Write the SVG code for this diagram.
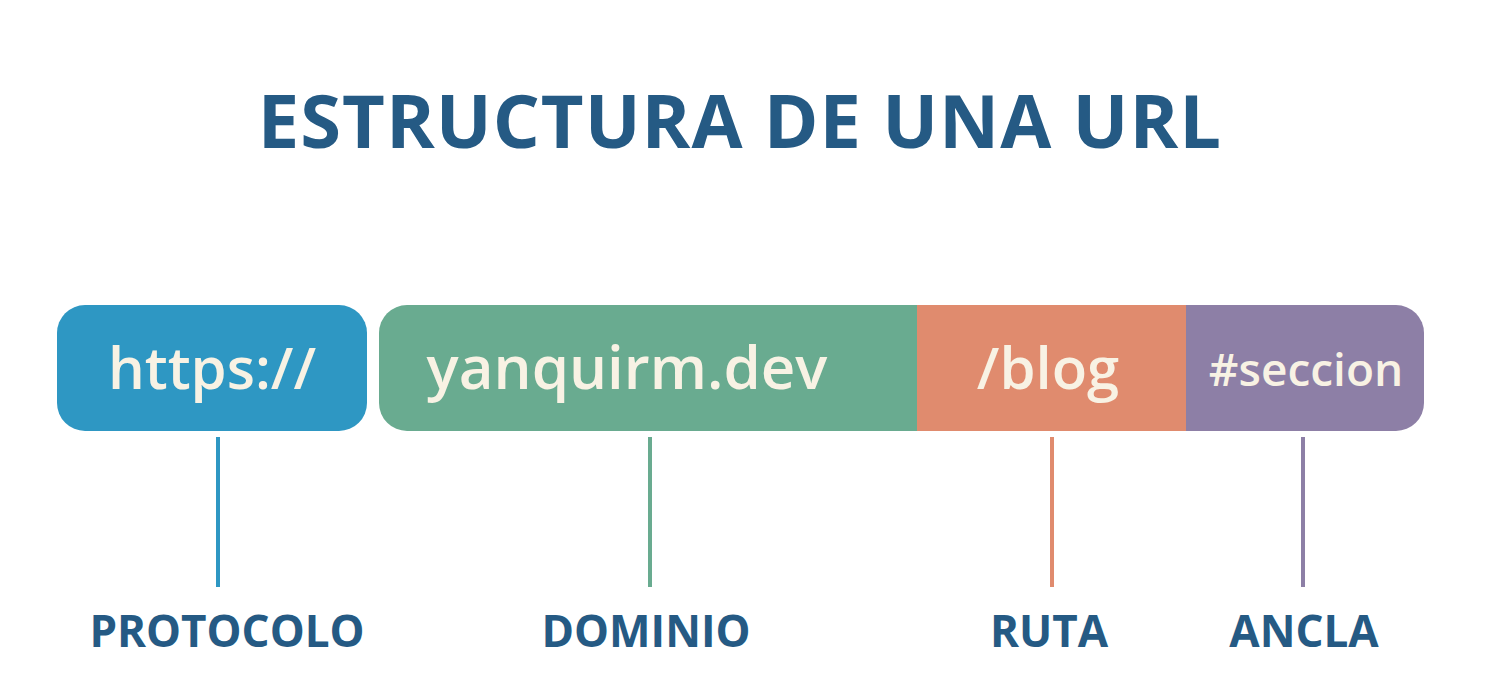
<svg xmlns="http://www.w3.org/2000/svg" width="1500" height="700" viewBox="0 0 1500 700">
<style>
.t{font-family:"Open Sans","Liberation Sans",sans-serif;font-weight:700;fill:#255a84;text-anchor:middle}
.b{font-family:"Open Sans","Liberation Sans",sans-serif;font-weight:600;fill:#f8f2e4;text-anchor:middle}
.l{stroke-width:4;fill:none}
</style>
<rect width="1500" height="700" fill="#ffffff"/>
<text class="t" x="740" y="148" font-size="74" letter-spacing="1">ESTRUCTURA DE UNA URL</text>
<g id="protocolo">
<rect x="57" y="305" width="310" height="126" rx="28" fill="#2e97c3"/>
<text class="b" x="212" y="389" font-size="58">https://</text>
</g>
<g id="dominio">
<path d="M407 305H917V431H407A28 28 0 0 1 379 403V333A28 28 0 0 1 407 305Z" fill="#69ab90"/>
<text class="b" x="627" y="389" font-size="60">yanquirm.dev</text>
</g>
<g id="ruta">
<rect x="917" y="305" width="269" height="126" fill="#e08b6e"/>
<text class="b" x="1048" y="389" font-size="58">/blog</text>
</g>
<g id="ancla">
<path d="M1186 305H1396A28 28 0 0 1 1424 333V403A28 28 0 0 1 1396 431H1186Z" fill="#8d7fa6"/>
<text class="b" x="1306" y="386" font-size="46">#seccion</text>
</g>
<g id="connectors">
<line class="l" x1="218" y1="437" x2="218" y2="587" stroke="#2e97c3"/>
<line class="l" x1="650" y1="437" x2="650" y2="587" stroke="#69ab90"/>
<line class="l" x1="1052" y1="437" x2="1052" y2="587" stroke="#e08b6e"/>
<line class="l" x1="1303" y1="437" x2="1303" y2="587" stroke="#8d7fa6"/>
</g>
<g id="labels">
<text class="t" x="227" y="647" font-size="44">PROTOCOLO</text>
<text class="t" x="646" y="647" font-size="44">DOMINIO</text>
<text class="t" x="1049" y="647" font-size="44">RUTA</text>
<text class="t" x="1304" y="647" font-size="44">ANCLA</text>
</g>
</svg>
